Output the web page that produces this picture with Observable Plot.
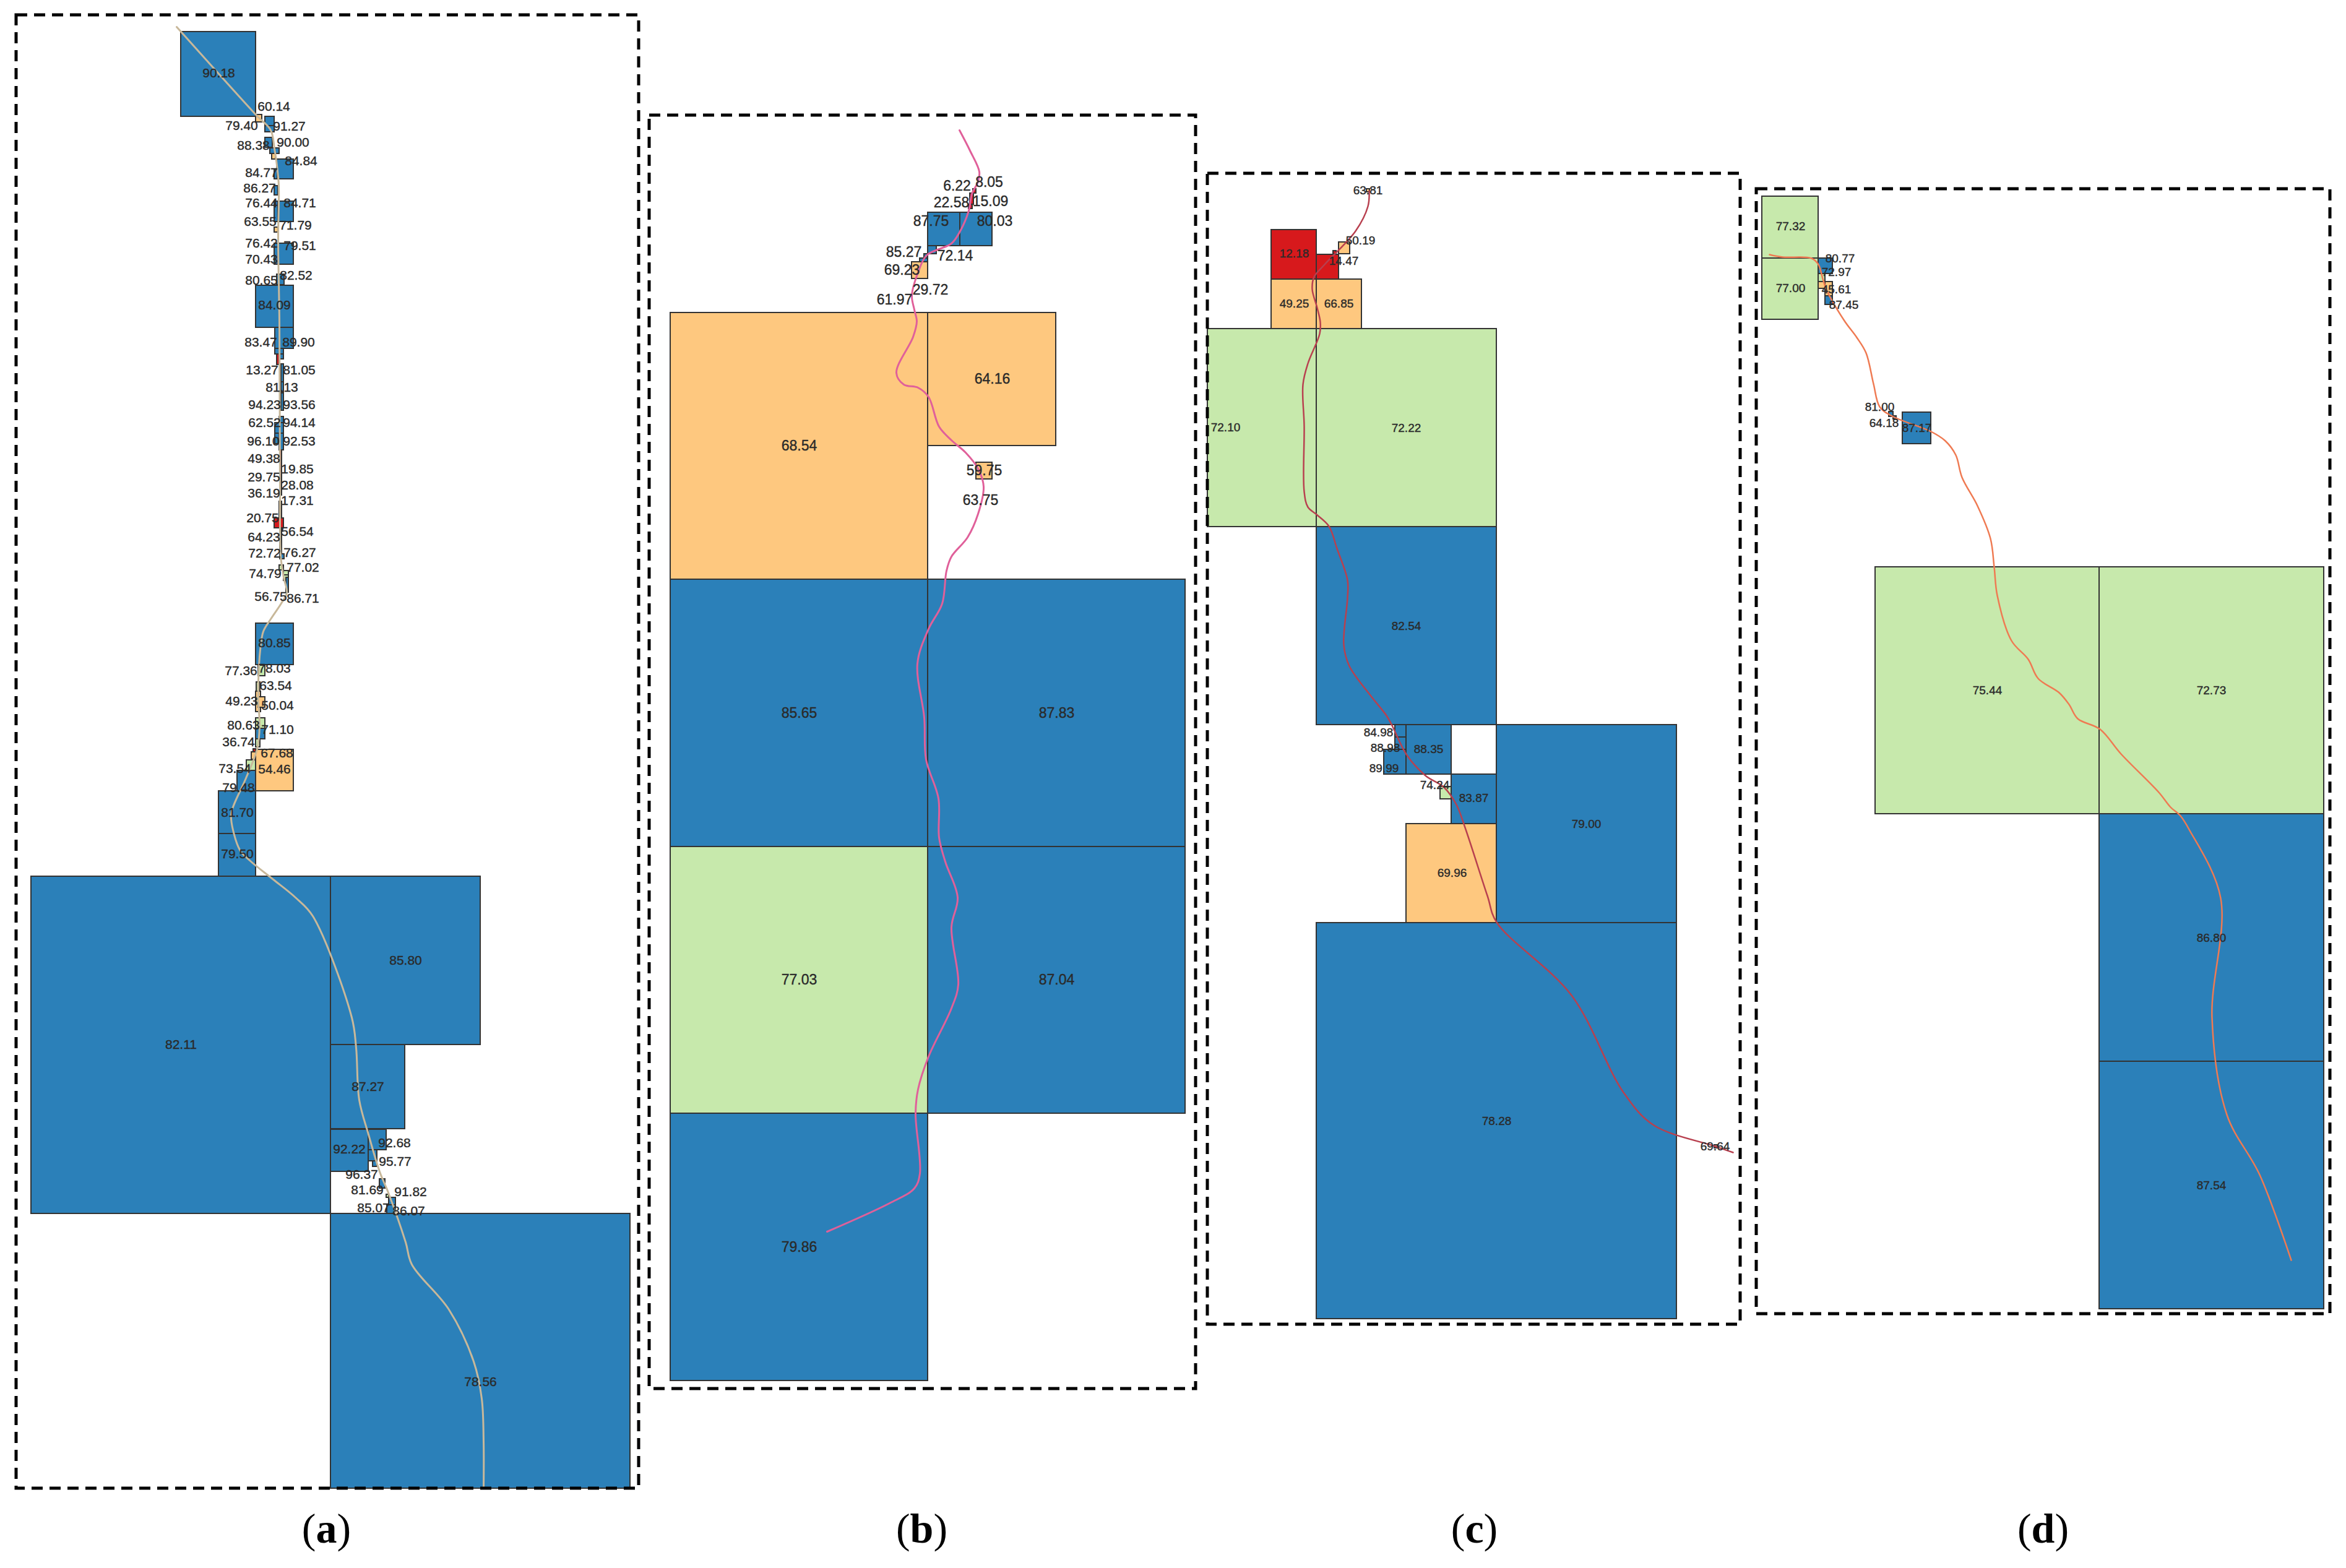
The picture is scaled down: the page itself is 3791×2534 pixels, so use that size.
<!DOCTYPE html>
<html><head><meta charset="utf-8">
<script src="https://cdn.jsdelivr.net/npm/d3@7"></script>
<script src="https://cdn.jsdelivr.net/npm/@observablehq/plot@0.6"></script>
<style>html,body{margin:0;padding:0;background:#fff}svg{display:block}</style>
</head><body><div id="chart"></div>
<script>
const classColors = ["#2b80b9","#c7e9ac","#fec87f","#d7191c","#ffffff"];

// cells: [x1, y1, x2, y2, class]
const cellsA = [
[292,51,413,188,"high"],[413,185,423,197,"mid"],[428,188,443,203,"high"],[428,203,443,213,"high"],[428,222,440,238,"high"],[436,239,451,248,"high"],[439,248,445,257,"mid"],
[447,257,474,289,"high"],[443,273,448,289,"high"],[443,300,449,315,"high"],[443,325,449,358,"high"],[449,325,474,358,"high"],[443,367,449,375,"mid"],
[443,393,449,427,"high"],[449,393,474,427,"high"],[447,443,459,460,"high"],[413,461,474,529,"high"],[444,529,474,563,"high"],[444,563,458,572,"high"],[451,572,458,580,"high"],[447,572,451,589,"low"],
[454,588,458,617,"high"],[454,617,458,633,"high"],[454,635,458,663,"high"],[451,673,458,683,"high"],[444,683,458,700,"high"],[444,700,451,717,"high"],[451,700,458,727,"high"],
[452,727,455,800,"low"],[451,810,455,837,"mid"],[443,837,458,853,"low"],[452,853,455,893,"mid"],[452,895,459,903,"high"],[451,913,458,921,"fair"],[458,922,466,929,"fair"],[458,929,466,938,"fair"],[462,933,466,957,"high"],
[413,1007,474,1074,"high"],[417,1075,428,1092,"fair"],[414,1102,420,1117,"fair"],[413,1117,421,1150,"mid"],[417,1126,428,1143,"mid"],[413,1160,428,1177,"fair"],[413,1177,428,1194,"high"],[413,1194,420,1207,"fair"],[409,1210,413,1215,"low"],[406,1215,413,1227,"mid"],
[413,1211,474,1278,"mid"],[398,1228,413,1245,"fair"],[383,1245,413,1278,"high"],[353,1278,413,1347,"high"],[353,1347,413,1416,"high"],
[50,1416,534,1961,"high"],[534,1416,776,1688,"high"],[534,1688,654,1824,"high"],[534,1825,595,1893,"high"],[595,1825,624,1858,"high"],[595,1858,609,1876,"high"],[602,1876,609,1885,"high"],[613,1905,622,1920,"high"],[624,1930,628,1935,"fair"],[628,1935,639,1960,"high"],[625,1947,639,1961,"high"],
[534,1961,1018,2405,"high"]];
const cellsB = [
[1083,505,1499,936,"mid"],[1499,505,1706,720,"mid"],[1083,936,1499,1368,"high"],[1499,936,1915,1368,"high"],[1083,1368,1499,1799,"fair"],[1499,1368,1915,1799,"high"],[1083,1799,1499,2231,"high"],
[1577,747,1603,774,"mid"],[1499,343,1551,397,"high"],[1551,343,1603,397,"high"],[1499,397,1513,410,"high"],[1486,417,1499,423,"high"],[1493,410,1499,417,"high"],[1473,423,1499,450,"mid"],
[1565,330,1571,337,"low"],[1567,312,1573,330,"low"],[1572,305,1577,312,"low"]];
const cellsC = [
[2208,305,2213,310,"mid"],[2054,371,2127,451,"low"],[2127,411,2163,451,"low"],[2163,391,2181,410,"mid"],[2154,405,2159,410,"low"],[2054,451,2127,531,"mid"],[2127,451,2200,531,"mid"],
[1951,531,2127,851,"fair"],[2127,531,2418,851,"fair"],[2127,851,2418,1171,"high"],[2272,1171,2345,1251,"high"],[2254,1171,2272,1191,"high"],[2254,1191,2272,1211,"high"],[2236,1211,2272,1251,"high"],
[2345,1171,2418,1251,"none"],[2345,1251,2418,1331,"high"],[2327,1271,2345,1291,"fair"],[2272,1331,2418,1491,"mid"],[2418,1171,2709,1491,"high"],[2127,1491,2709,2131,"high"],[2770,1850,2775,1855,"mid"]];
const cellsD = [
[2847,317,2938,417,"fair"],[2847,417,2938,516,"fair"],[2938,417,2961,442,"high"],[2938,442,2949,455,"fair"],[2938,455,2949,466,"mid"],[2949,455,2961,478,"mid"],[2949,478,2961,492,"high"],
[3074,666,3120,717,"high"],[3052,665,3059,673,"high"],[3059,672,3064,677,"high"],[3030,916,3392,1315,"fair"],[3392,916,3755,1315,"fair"],[3392,1315,3755,1715,"high"],[3392,1715,3755,2115,"high"]];

// printed values: [label, x, y]
const labelsA = [["90.18",353,118],["60.14",442,172],["79.40",390,203],["91.27",467,204],["88.38",409,235],["90.00",473,230],["84.84",486,260],["84.77",422,279],["86.27",419,304],["76.44",422,328],["84.71",484,328],["63.55",420,358],["71.79",477,364],["76.42",422,393],["79.51",484,397],["70.43",422,419],["82.52",478,445],["80.65",422,453],["84.09",443,493],
["83.47",421,553],["89.90",482,553],["13.27",423,598],["81.05",483,598],["81.13",455,626],["94.23",427,654],["93.56",483,654],["62.52",427,683],["94.14",483,683],["96.10",425,713],["92.53",483,713],["49.38",426,741],["19.85",480,758],["29.75",426,771],["28.08",480,784],["36.19",426,797],["17.31",480,809],["20.75",424,837],["56.54",480,859],["64.23",426,868],["72.72",427,894],["76.27",484,893],["74.79",428,927],["77.02",489,917],["56.75",437,964],["86.71",489,967],
["80.85",443,1039],["77.36",389,1084],["78.03",443,1080],["63.54",445,1108],["49.23",390,1133],["50.04",448,1140],["80.63",393,1172],["71.10",448,1179],["36.74",385,1199],["67.68",447,1217],["54.46",443,1243],["73.54",379,1242],["79.48",385,1273],["81.70",383,1313],["79.50",383,1380],
["82.11",292,1688],["85.80",655,1552],["87.27",594,1756],["92.22",564,1857],["92.68",637,1847],["95.77",638,1877],["96.37",584,1898],["81.69",593,1923],["91.82",663,1926],["85.07",603,1952],["86.07",660,1957],["78.56",776,2233]];
const labelsB = [["6.22",1546,300],["8.05",1598,294],["22.58",1537,327],["15.09",1600,325],["87.75",1504,357],["80.03",1607,357],["85.27",1460,407],["72.14",1543,413],["69.23",1457,436],["29.72",1503,468],["61.97",1445,484],["68.54",1291,720],["64.16",1603,612],["59.75",1590,760],["63.75",1584,808],["85.65",1291,1152],["87.83",1707,1152],["77.03",1291,1583],["87.04",1707,1583],["79.86",1291,2015]];
const labelsC = [["63.81",2210,307],["50.19",2198,388],["14.47",2171,421],["12.18",2091,409],["49.25",2091,490],["66.85",2163,490],["72.10",1980,690],["72.22",2272,691],["82.54",2272,1011],["84.98",2227,1183],["88.98",2238,1208],["89.99",2236,1241],["88.35",2308,1210],["74.24",2318,1268],["83.87",2381,1289],["69.96",2346,1410],["79.00",2563,1331],["78.28",2418,1811],["69.64",2771,1852]];
const labelsD = [["77.32",2893,365],["77.00",2893,465],["80.77",2973,417],["72.97",2967,439],["45.61",2967,467],["87.45",2979,492],["87.17",3097,691],["81.00",3037,657],["64.18",3044,683],["75.44",3211,1115],["72.73",3573,1115],["86.80",3573,1515],["87.54",3573,1915]];

// traced routes: [x, y]
const routeA = [[285,43],[293,52],[413,185],[437,210],[443,240],[447,267],[450,300],[449,387],[451,520],[452,800],[453,897],[458,933],[463,957],[455,973],[437,1000],[425,1020],[420,1050],[417,1100],[417,1133],[419,1173],[415,1210],[397,1257],[375,1307],[373,1323],[387,1373],[403,1390],[440,1420],[477,1450],[505,1480],[568,1644],[575,1693],[580,1777],[595,1833],[613,1893],[627,1927],[655,2007],[665,2043],[725,2116],[765,2200],[778,2260],[781,2330],[781,2405]];
const routeB = [[1550,210],[1567,243],[1582,277],[1580,293],[1570,313],[1565,340],[1550,375],[1537,393],[1497,412],[1483,440],[1473,477],[1477,500],[1481,519],[1475,544],[1448,602],[1460,621],[1483,626],[1500,641],[1517,689],[1537,711],[1560,731],[1580,757],[1589,786],[1580,830],[1563,868],[1537,899],[1529,922],[1522,975],[1500,1016],[1482,1072],[1493,1159],[1496,1227],[1516,1290],[1517,1353],[1527,1392],[1547,1450],[1537,1498],[1548,1591],[1537,1629],[1500,1707],[1483,1760],[1479,1799],[1486,1896],[1477,1920],[1437,1944],[1336,1990]];
const routeC = [[2212,308],[2210,333],[2190,373],[2140,427],[2123,447],[2120,467],[2128,497],[2133,520],[2132,539],[2113,587],[2105,621],[2107,688],[2107,794],[2113,819],[2127,831],[2147,850],[2160,886],[2177,937],[2177,966],[2171,1042],[2180,1076],[2213,1122],[2240,1156],[2248,1170],[2273,1220],[2303,1253],[2333,1272],[2353,1300],[2367,1337],[2403,1447],[2418,1490],[2539,1608],[2623,1765],[2672,1818],[2771,1852],[2800,1862]];
const routeD = [[2859,411],[2880,415],[2927,417],[2938,427],[2945,450],[2952,470],[2980,518],[3000,545],[3015,570],[3027,620],[3037,657],[3057,672],[3120,697],[3143,712],[3160,735],[3170,771],[3195,817],[3216,870],[3222,916],[3227,962],[3250,1035],[3277,1065],[3293,1096],[3327,1119],[3343,1138],[3357,1161],[3393,1178],[3427,1218],[3488,1280],[3507,1304],[3523,1318],[3537,1340],[3588,1451],[3574,1644],[3598,1801],[3651,1898],[3702,2036]];

const frames = [[26,24,1032,2405],[1049,186,1932,2244],[1951,280,2812,2140],[2838,305,3765,2123]];
const captions = [["(a)",527,2471],["(b)",1489,2471],["(c)",2382,2471],["(d)",3301,2471]];

const font = "'Liberation Sans', Arial, sans-serif";
const cellMark = cells => Plot.rect(cells, {x1:d=>d[0], y1:d=>d[1], x2:d=>d[2], y2:d=>d[3], fill:d=>d[4], stroke:"#333", strokeWidth:2});
const labelMark = (labels,size) => Plot.text(labels, {x:d=>d[1], y:d=>d[2], text:d=>d[0], fontSize:size, fontFamily:font, fill:"#2a2a2a", stroke:"#2a2a2a", strokeWidth:0.4, textAnchor:"middle", lineAnchor:"middle"});
const routeMark = (route,color,w) => Plot.line(route, {x:d=>d[0], y:d=>d[1], stroke:color, strokeWidth:w, curve:"catmull-rom"});

const chart = Plot.plot({
  width:3791, height:2534, margin:0,
  style:{background:"#fff", overflow:"visible"},
  x:{domain:[0,3791], range:[0,3791], axis:null},
  y:{domain:[0,2534], range:[0,2534], axis:null},
  color:{type:"ordinal", domain:["high","fair","mid","low","none"], range:classColors},
  marks:[
    cellMark(cellsA), cellMark(cellsB), cellMark(cellsC), cellMark(cellsD),
    routeMark(routeA,"#c8b89a",3), routeMark(routeB,"#e0609a",3), routeMark(routeC,"#b8404f",2.5), routeMark(routeD,"#ef7a52",2.5),
    labelMark(labelsA,21), labelMark(labelsB,23), labelMark(labelsC,19), labelMark(labelsD,19),
    Plot.rect(frames, {x1:d=>d[0], y1:d=>d[1], x2:d=>d[2], y2:d=>d[3], fill:"none", stroke:"#000", strokeWidth:5, strokeDasharray:"18,11"}),
    Plot.text(captions, {x:d=>d[1], y:d=>d[2], text:d=>d[0], fontSize:68, fontFamily:"'Liberation Serif', serif", fill:"#000", textAnchor:"middle", lineAnchor:"middle", className:"caption"})
  ]
});
document.getElementById("chart").appendChild(chart);
// bold panel letter inside the parentheses
d3.select(chart).selectAll("g.caption text").each(function(){
  const t=this.textContent, el=d3.select(this); el.text(null);
  el.append("tspan").text(t[0]);
  el.append("tspan").attr("font-weight","bold").text(t[1]);
  el.append("tspan").text(t[2]);
});
</script></body></html>
